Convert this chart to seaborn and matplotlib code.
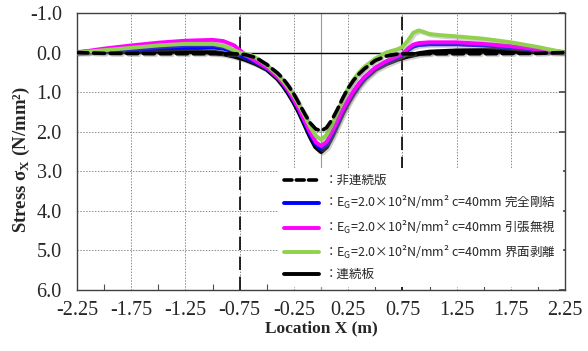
import matplotlib
matplotlib.use("Agg")
import matplotlib.pyplot as plt
import matplotlib.patheffects as pe
from matplotlib.lines import Line2D
from matplotlib.ticker import MultipleLocator, FixedLocator
import pandas as pd
import seaborn as sns

# ---- data -------------------------------------------------------------
# 非連続版 (discontinuous slab)
x_disc = [-2.25, -2.0, -1.5, -1.0, -0.8, -0.7, -0.6, -0.5, -0.4, -0.35, -0.3, -0.25,
          -0.2, -0.15, -0.1, -0.05, 0.0, 0.05, 0.1, 0.15, 0.2, 0.25, 0.3, 0.35, 0.4,
          0.5, 0.6, 0.7, 0.8, 1.0, 1.5, 2.0, 2.25]
y_disc = [0.0, 0.02, 0.03, 0.03, 0.03, 0.05, 0.13, 0.30, 0.52, 0.66, 0.84, 1.05,
          1.30, 1.55, 1.78, 1.93, 1.98, 1.90, 1.70, 1.44, 1.15, 0.90, 0.70, 0.54, 0.41,
          0.20, 0.09, 0.04, 0.03, 0.03, 0.03, 0.02, 0.0]

# 完全剛結 (fully bonded)
x_bond = [-2.25, -2.0, -1.75, -1.5, -1.25, -1.0, -0.9, -0.8, -0.75, -0.7, -0.6, -0.5,
          -0.4, -0.35, -0.3, -0.25, -0.2, -0.15, -0.1, -0.05, 0.0, 0.05, 0.1, 0.15,
          0.2, 0.25, 0.3, 0.35, 0.4, 0.5, 0.6, 0.7, 0.75, 0.8, 0.85, 0.9, 1.0, 1.25,
          1.5, 1.75, 2.0, 2.25]
y_bond = [0.0, -0.05, -0.08, -0.11, -0.13, -0.13, -0.10, -0.02, 0.06, 0.12, 0.25, 0.40,
          0.64, 0.80, 1.00, 1.22, 1.48, 1.78, 2.08, 2.32, 2.43, 2.32, 2.08, 1.78,
          1.48, 1.22, 1.00, 0.80, 0.64, 0.40, 0.24, 0.13, 0.06, -0.06, -0.15, -0.19,
          -0.21, -0.21, -0.18, -0.13, -0.07, 0.0]

# 引張無視 (tension ignored)
x_tens = [-2.25, -2.0, -1.75, -1.5, -1.25, -1.0, -0.9, -0.8, -0.75, -0.7, -0.6, -0.5,
          -0.4, -0.35, -0.3, -0.25, -0.2, -0.15, -0.1, -0.05, 0.0, 0.05, 0.1, 0.15,
          0.2, 0.25, 0.3, 0.35, 0.4, 0.5, 0.6, 0.7, 0.75, 0.8, 0.85, 0.9, 1.0, 1.25,
          1.5, 1.75, 2.0, 2.25]
y_tens = [0.0, -0.10, -0.18, -0.25, -0.30, -0.32, -0.29, -0.18, -0.06, 0.05, 0.22, 0.38,
          0.62, 0.78, 0.97, 1.20, 1.45, 1.74, 2.02, 2.26, 2.36, 2.26, 2.02, 1.74,
          1.45, 1.20, 0.97, 0.78, 0.62, 0.38, 0.22, 0.10, 0.04, -0.10, -0.20, -0.24,
          -0.26, -0.26, -0.22, -0.16, -0.08, 0.0]

# 界面剥離 (interface separation)
x_sep = [-2.25, -2.0, -1.75, -1.5, -1.25, -1.0, -0.9, -0.8, -0.75, -0.7, -0.65, -0.6,
         -0.5, -0.4, -0.35, -0.3, -0.25, -0.2, -0.15, -0.1, -0.05, 0.0, 0.05, 0.1,
         0.15, 0.2, 0.25, 0.3, 0.35, 0.4, 0.5, 0.6, 0.7, 0.75, 0.8, 0.85, 0.9, 0.95,
         1.0, 1.1, 1.25, 1.5, 1.75, 2.0, 2.25]
y_sep = [0.0, -0.06, -0.12, -0.18, -0.22, -0.22, -0.17, -0.06, 0.0, 0.03, 0.06, 0.13,
         0.32, 0.56, 0.72, 0.90, 1.10, 1.34, 1.60, 1.88, 2.10, 2.20, 2.08, 1.82,
         1.50, 1.18, 0.90, 0.68, 0.50, 0.36, 0.15, 0.0, -0.08, -0.14, -0.30, -0.50,
         -0.56, -0.52, -0.47, -0.44, -0.41, -0.35, -0.26, -0.14, 0.0]

# 連続板 (continuous slab)
x_cont = [-2.25, -2.0, -1.75, -1.5, -1.25, -1.0, -0.9, -0.8, -0.75, -0.7, -0.6, -0.5,
          -0.4, -0.35, -0.3, -0.25, -0.2, -0.15, -0.1, -0.05, 0.0, 0.05, 0.1, 0.15,
          0.2, 0.25, 0.3, 0.35, 0.4, 0.5, 0.6, 0.7, 0.75, 0.8, 0.9, 1.0, 1.25, 1.5,
          1.75, 2.0, 2.25]
y_cont = [0.0, -0.03, -0.045, -0.05, -0.04, -0.01, 0.03, 0.09, 0.13, 0.17, 0.28, 0.42,
          0.66, 0.83, 1.03, 1.26, 1.52, 1.82, 2.12, 2.38, 2.50, 2.38, 2.12, 1.82,
          1.52, 1.26, 1.03, 0.83, 0.66, 0.42, 0.28, 0.17, 0.13, 0.09, 0.03, -0.01,
          -0.04, -0.05, -0.045, -0.03, 0.0]

x_ticks = [-2.25, -1.75, -1.25, -0.75, -0.25, 0.25, 0.75, 1.25, 1.75, 2.25]
y_ticks = [-1.0, 0.0, 1.0, 2.0, 3.0, 4.0, 5.0, 6.0]
joint_x = [-0.75, 0.75]

label_disc = "：非連続版"
label_bond = "：$\\mathregular{E_G}$=2.0×10²N/mm² c=40mm 完全剛結"
label_tens = "：$\\mathregular{E_G}$=2.0×10²N/mm² c=40mm 引張無視"
label_sep = "：$\\mathregular{E_G}$=2.0×10²N/mm² c=40mm 界面剥離"
label_cont = "：連続板"

# ---- style ------------------------------------------------------------
sns.set_theme(style="white")
plt.rcParams["font.family"] = ["Noto Sans CJK JP", "DejaVu Sans"]
serif = ["Liberation Serif", "DejaVu Serif"]

fig = plt.figure(figsize=(5.88, 3.51), dpi=100)
ax = fig.add_axes([0.131, 0.174, 0.830, 0.789])

shadow = [pe.SimpleLineShadow(offset=(1.2, -1.2), shadow_color="0.5", alpha=0.35),
          pe.Normal()]

series = [
    (x_cont, y_cont, "#000000", 3.6, None, 2),
    (x_bond, y_bond, "#0000FF", 2.8, None, 3),
    (x_tens, y_tens, "#FF00FF", 2.8, None, 4),
    (x_sep, y_sep, "#92D050", 2.8, None, 5),
    (x_disc, y_disc, "#000000", 2.6, (3.0, 1.6), 6),
]
for xs, ys, col, lw, dash, z in series:
    df = pd.DataFrame({"x": xs, "y": ys})
    sns.lineplot(data=df, x="x", y="y", ax=ax, color=col, linewidth=lw,
                 sort=False, estimator=None, zorder=z)
    line = ax.lines[-1]
    line.set_path_effects(shadow)
    line.set_solid_capstyle("round")
    if dash is not None:
        line.set_dashes(dash)
        line.set_dash_capstyle("round")

# reference lines
ax.axhline(0.0, color="black", linewidth=1.0, zorder=1.5)
ax.axvline(0.0, color="0.6", linewidth=0.8, zorder=1)
for xv in joint_x:
    ax.axvline(xv, color="black", linewidth=1.2, linestyle=(0, (8, 4)), zorder=1.6)

ax.set_xlim(-2.25, 2.25)
ax.set_ylim(6.0, -1.0)
ax.xaxis.set_major_locator(FixedLocator(x_ticks))
ax.xaxis.set_minor_locator(MultipleLocator(0.25))
ax.yaxis.set_major_locator(FixedLocator(y_ticks))
ax.set_xticklabels([f"{v:.2f}" for v in x_ticks], family=serif, fontsize=14.5)
ax.set_yticklabels([f"{v:.1f}" for v in y_ticks], family=serif, fontsize=14.5)

ax.grid(True, which="major", color="0.55", linestyle=(0, (1.5, 1.5)), linewidth=0.7)
ax.set_axisbelow(True)
ax.tick_params(axis="x", which="major", direction="in", length=0, pad=8, top=False)
ax.tick_params(axis="x", which="minor", direction="in", length=4, width=0.8,
               color="0.3", bottom=True, top=False)
ax.tick_params(axis="y", which="major", direction="in", length=4, pad=11,
               left=False, right=True, color="0.3")

for sp in ax.spines.values():
    sp.set_color("0.25")
    sp.set_linewidth(1.0)

ax.set_xlabel("Location X (m)", family=serif, fontweight="bold", fontsize=12.5, labelpad=0)
ax.set_ylabel("Stress σ$_\\mathregular{X}$ (N/mm²)", family=serif,
              fontweight="bold", fontsize=13.5)
ax.yaxis.set_label_coords(-0.092, 0.47)

handles = [
    Line2D([], [], color="black", linewidth=2.6, dashes=(2.2, 1.2), dash_capstyle="round"),
    Line2D([], [], color="#0000FF", linewidth=2.8),
    Line2D([], [], color="#FF00FF", linewidth=2.8),
    Line2D([], [], color="#92D050", linewidth=2.8),
    Line2D([], [], color="black", linewidth=2.8),
]
labels = [label_disc, label_bond, label_tens, label_sep, label_cont]
leg = ax.legend(handles, labels, loc="lower right", bbox_to_anchor=(1.0, 0.0),
                frameon=True, fancybox=False, framealpha=1.0, facecolor="white",
                edgecolor="none", fontsize=9, handlelength=2.8, handletextpad=0.4,
                labelspacing=0.6, borderpad=0.5, borderaxespad=0.2)
leg.set_zorder(10)

fig.savefig("out.png", dpi=100)
